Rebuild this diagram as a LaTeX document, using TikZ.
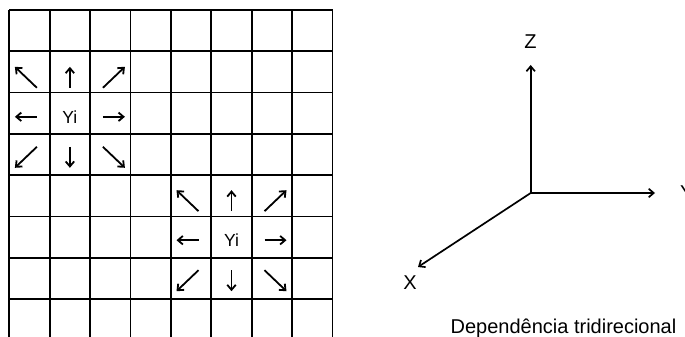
\documentclass[tikz,border=0pt]{standalone}
\usepackage{fontspec}
\setmainfont{Liberation Sans}
\usetikzlibrary{calc,arrows.meta}

\tikzset{
  gridline/.style={line width=1.7pt, black},
  nbarrow/.style={line width=1.8pt, -{Straight Barb[length=5pt,width=8.5pt]}},
  axisarrow/.style={line width=1.7pt, -{Straight Barb[length=5pt,width=8.5pt]}},
  yilbl/.style={font=\fontsize{17.5}{20}\selectfont, inner sep=0pt},
  axlbl/.style={font=\fontsize{20}{23}\selectfont, inner sep=0pt},
}

\begin{document}
\begin{tikzpicture}[x=1pt, y=-1pt]
\useasboundingbox (0,0) rectangle (685,337);
\draw[gridline] (9.3,10) -- (9.3,337);
\draw[gridline] (49.7,10) -- (49.7,337);
\draw[gridline] (90.1,10) -- (90.1,337);
\draw[gridline] (130.5,10) -- (130.5,337);
\draw[gridline] (170.9,10) -- (170.9,337);
\draw[gridline] (211.3,10) -- (211.3,337);
\draw[gridline] (251.7,10) -- (251.7,337);
\draw[gridline] (292.1,10) -- (292.1,337);
\draw[gridline] (332.5,10) -- (332.5,337);
\draw[gridline] (9.3,10) -- (332.5,10);
\draw[gridline] (9.3,51.3) -- (332.5,51.3);
\draw[gridline] (9.3,92.6) -- (332.5,92.6);
\draw[gridline] (9.3,133.9) -- (332.5,133.9);
\draw[gridline] (9.3,175.2) -- (332.5,175.2);
\draw[gridline] (9.3,216.5) -- (332.5,216.5);
\draw[gridline] (9.3,257.8) -- (332.5,257.8);
\draw[gridline] (9.3,299.1) -- (332.5,299.1);
\node[yilbl] (yiA) at (69.9,116.8) {Yi};
\draw[nbarrow] ($(yiA.center)+(-33,-29)$) -- ($(yiA.center)+(-55,-50)$);
\draw[nbarrow] ($(yiA.center)+(0,-29)$) -- ($(yiA.center)+(0,-50)$);
\draw[nbarrow] ($(yiA.center)+(33,-29)$) -- ($(yiA.center)+(55,-50)$);
\draw[nbarrow] ($(yiA.center)+(-33,0)$) -- ($(yiA.center)+(-55,0)$);
\draw[nbarrow] ($(yiA.center)+(33,0)$) -- ($(yiA.center)+(55,0)$);
\draw[nbarrow] ($(yiA.center)+(-33,30)$) -- ($(yiA.center)+(-55,51)$);
\draw[nbarrow] ($(yiA.center)+(0,30)$) -- ($(yiA.center)+(0,51)$);
\draw[nbarrow] ($(yiA.center)+(33,30)$) -- ($(yiA.center)+(55,51)$);
\node[yilbl] (yiB) at (231.5,240.2) {Yi};
\draw[nbarrow] ($(yiB.center)+(-33,-29)$) -- ($(yiB.center)+(-55,-50)$);
\draw[nbarrow] ($(yiB.center)+(0,-29)$) -- ($(yiB.center)+(0,-50)$);
\draw[nbarrow] ($(yiB.center)+(33,-29)$) -- ($(yiB.center)+(55,-50)$);
\draw[nbarrow] ($(yiB.center)+(-33,0)$) -- ($(yiB.center)+(-55,0)$);
\draw[nbarrow] ($(yiB.center)+(33,0)$) -- ($(yiB.center)+(55,0)$);
\draw[nbarrow] ($(yiB.center)+(-33,30)$) -- ($(yiB.center)+(-55,51)$);
\draw[nbarrow] ($(yiB.center)+(0,30)$) -- ($(yiB.center)+(0,51)$);
\draw[nbarrow] ($(yiB.center)+(33,30)$) -- ($(yiB.center)+(55,51)$);
\coordinate (orig) at (530.7,193);
\coordinate (ztip) at (530.7,65);
\coordinate (ytip) at (655,193);
\coordinate (xtip) at (418,267);
\draw[axisarrow] (orig) -- (ztip);
\draw[axisarrow] (orig) -- (ytip);
\draw[axisarrow] (orig) -- (xtip);
\node[axlbl] (zlbl) at (530.5,42) {Z};
\node[axlbl, anchor=west] (ylbl) at (680,193) {Y};
\node[axlbl] (xlbl) at (410,283) {X};
\node[axlbl, anchor=base] (caption) at (563.5,333) {Dependência tridirecional};
\end{tikzpicture}
\end{document}
